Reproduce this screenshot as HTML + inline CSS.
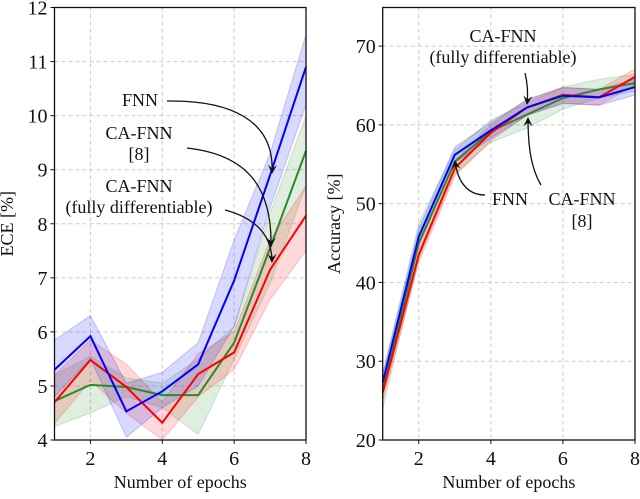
<!DOCTYPE html>
<html><head><meta charset="utf-8"><style>
html,body{margin:0;padding:0;background:#fff}
svg text{font-family:"Liberation Serif","Times New Roman",serif;fill:#111}
</style></head><body>
<svg id="c" width="640" height="494" viewBox="0 0 640 494" xmlns="http://www.w3.org/2000/svg" font-family="Liberation Serif, serif">
<defs><marker id="ah" viewBox="0 0 10 10" refX="9" refY="5" markerWidth="7" markerHeight="7" orient="auto"><path d="M0,0 L10,5 L0,10 L4,5 z" fill="#111"/></marker></defs>
<g id="L"></g>
<g id="R"></g>
</svg>
<script>
const epochs=[1,2,3,4,5,6,7,8];
const eceFNN=[5.3,5.92,4.53,4.9,5.4,6.95,8.9,10.9];
const eceFNNlo=[4.8,5.5,4.05,4.6,5.0,6.1,8.3,10.2];
const eceFNNhi=[5.85,6.3,5.05,5.25,5.8,7.7,9.3,11.5];
const eceCA=[4.7,5.48,4.98,4.32,5.22,5.62,7.15,8.15];
const eceCAlo=[4.3,5.1,4.5,4.0,4.8,5.3,6.6,7.5];
const eceCAhi=[5.2,5.85,5.4,4.7,5.6,6.0,7.7,8.7];
const eceCAF=[4.72,5.02,4.98,4.83,4.83,5.8,7.55,9.35];
const eceCAFlo=[4.25,4.5,4.8,4.6,4.1,5.5,6.9,8.7];
const eceCAFhi=[5.2,5.55,5.15,5.05,5.5,6.1,8.2,10.0];
const accFNN=[27.3,45.8,56.2,59.3,62.2,63.7,63.5,64.8];
const accCA=[26,43.5,54.5,59,62.2,63.8,63.5,66.1];
const accCAF=[26.2,45,55.3,59.2,61.3,63.4,64.5,65.3];
const accCAFlo=[24,43,53.8,57.8,59.6,62,63.4,64.3];
const accCAFhi=[28.5,47.5,56.8,60.6,62.8,64.8,65.8,66.4];
const accBand=1.0;
const xTicks=[2,4,6,8];
const eceTicks=[4,5,6,7,8,9,10,11,12];
const accTicks=[20,30,40,50,60,70];
const NS="http://www.w3.org/2000/svg";
const FF='Liberation Serif, Times New Roman, serif';
function mk(p,t,a){const e=document.createElementNS(NS,t);for(const k in a)e.setAttribute(k,a[k]);if(t=='text')e.setAttribute('font-family',FF);p.appendChild(e);return e;}
function panel(g,x0,x1,y0,y1,ymin,ymax,yt,ylab,series,ylx){
 const sx=v=>x0+(v-1)/(7)*(x1-x0), sy=v=>y0-(v-ymin)/(ymax-ymin)*(y0-y1);
 xTicks.forEach(t=>{const l=mk(g,'line',{x1:sx(t),x2:sx(t),y1:y1,y2:y0,stroke:'#ccc','stroke-dasharray':'4,3','stroke-width':1});
 
 });
 yt.forEach(t=>{const l=mk(g,'line',{x1:x0,x2:x1,y1:sy(t),y2:sy(t),stroke:'#ccc','stroke-dasharray':'4,3','stroke-width':1});
 
 });
 series.forEach(s=>{if(s.lo){const pts=epochs.map((e,i)=>sx(e)+','+sy(s.hi[i])).concat(epochs.slice().reverse().map((e,j)=>{const i=7-j;return sx(e)+','+sy(s.lo[i]);}));
  const p=mk(g,'polygon',{points:pts.join(' '),fill:s.c,'fill-opacity':0.15,stroke:s.c,'stroke-opacity':0.2});
  
  }});
 series.forEach(s=>{const p=mk(g,'polyline',{points:epochs.map((e,i)=>sx(e)+','+sy(s.v[i])).join(' '),fill:'none',stroke:s.c,'stroke-width':2});
  
  });
 const f=mk(g,'rect',{x:x0,y:y1,width:x1-x0,height:y0-y1,fill:'none',stroke:'#111','stroke-width':1.3});
 
 
 xTicks.forEach(t=>{mk(g,'line',{x1:sx(t),x2:sx(t),y1:y0,y2:y0+4,stroke:'#111'});const tx=mk(g,'text',{x:sx(t),y:y0+25,'text-anchor':'middle','font-size':20});tx.textContent=t;
 
 });
 yt.forEach(t=>{mk(g,'line',{x1:x0-4,x2:x0,y1:sy(t),y2:sy(t),stroke:'#111'});const tx=mk(g,'text',{x:x0-7,y:sy(t)+7,'text-anchor':'end','font-size':20});tx.textContent=t;
 
 });
 const xl=mk(g,'text',{x:(x0+x1)/2,y:488,'text-anchor':'middle','font-size':18});xl.textContent='Number of epochs';
 
 
 const yl=mk(g,'text',{transform:`translate(${ylx},${(y0+y1)/2}) rotate(-90)`,'text-anchor':'middle','font-size':18});yl.textContent=ylab;
 
 
 return {sx,sy};
}
const L=document.getElementById('L'),R=document.getElementById('R');
panel(L,54.5,306,440,7.5,4,12,eceTicks,'ECE [%]',[
 {n:'ca-fnn-fd',c:'#2a8a2a',v:eceCAF,lo:eceCAFlo,hi:eceCAFhi},
 {n:'ca-fnn',c:'#f00',v:eceCA,lo:eceCAlo,hi:eceCAhi},
 {n:'fnn',c:'#00f',v:eceFNN,lo:eceFNNlo,hi:eceFNNhi}],13);
panel(R,382.7,635,440,7.5,20,74.9,accTicks,'Accuracy [%]',[
 {n:'ca-fnn-fd',c:'#2a8a2a',v:accCAF,lo:accCAFlo,hi:accCAFhi},
 {n:'ca-fnn',c:'#f00',v:accCA,lo:accCA.map(v=>v-accBand),hi:accCA.map(v=>v+accBand)},
 {n:'fnn',c:'#00f',v:accFNN,lo:accFNN.map(v=>v-accBand),hi:accFNN.map(v=>v+accBand)}],340);
function txt(g,x,y,s,nm){const t=mk(g,'text',{x:x,y:y,'text-anchor':'middle','font-size':18});t.textContent=s;
 
 }
function arr(g,d){const p=mk(g,'path',{d:d,fill:'none',stroke:'#111','stroke-width':1.3,'marker-end':'url(#ah)'});
 
 }
txt(L,140,106,'FNN','fnn-annotation');
txt(L,139,139,'CA-FNN','ca-fnn-annotation');txt(L,139,160,'[8]','ca-fnn-annotation-ref');
txt(L,139,192,'CA-FNN','ca-fnn-fd-annotation');txt(L,139,213,'(fully differentiable)','ca-fnn-fd-annotation-sub');
arr(L,'M167,101 C230,100 275,120 272,173');
arr(L,'M187,148 C250,155 272,190 271,246');
arr(L,'M225,210 C255,218 272,235 272,262');
txt(R,503,42,'CA-FNN','acc-ca-fnn-fd-annotation');txt(R,503,63,'(fully differentiable)','acc-ca-fnn-fd-annotation-sub');
txt(R,510,205,'FNN','acc-fnn-annotation');
txt(R,582,205,'CA-FNN','acc-ca-fnn-annotation');txt(R,582,227,'[8]','acc-ca-fnn-annotation-ref');
arr(R,'M525,73 C528,85 528,95 527,104');
arr(R,'M485,195 C470,195 458,185 455,161');
arr(R,'M541,185 C532,170 528,150 528,118');
</script>
</body></html>
